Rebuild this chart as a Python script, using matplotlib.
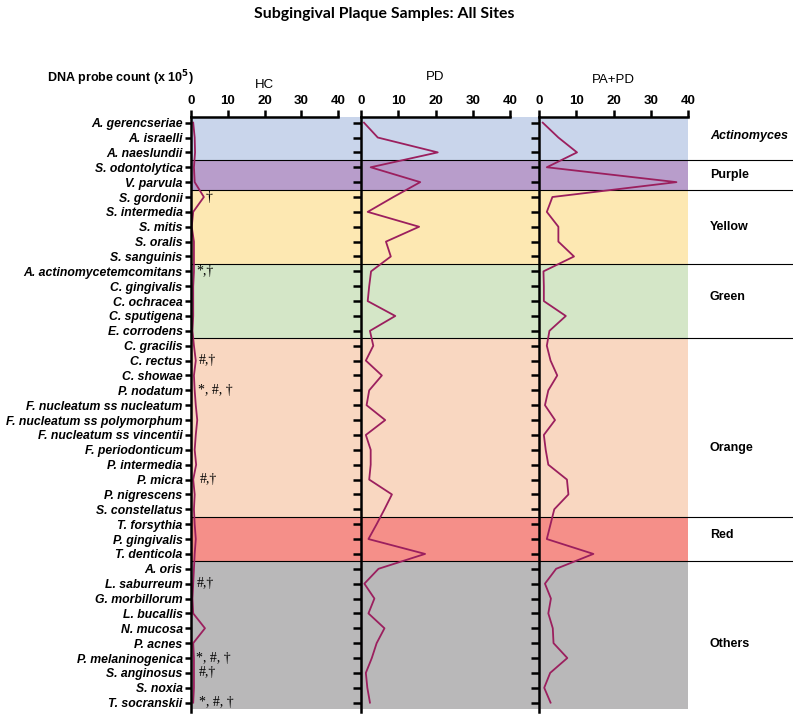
import numpy as np
import matplotlib
matplotlib.use('Agg')
import matplotlib.pyplot as plt

plt.rcParams['font.family'] = ['Liberation Sans', 'DejaVu Sans']

''' DATA '''

species = ['A. gerencseriae', 'A. israelli', 'A. naeslundii', 'S. odontolytica', 'V. parvula',
           'S. gordonii', 'S. intermedia', 'S. mitis', 'S. oralis', 'S. sanguinis',
           'A. actinomycetemcomitans', 'C. gingivalis', 'C. ochracea', 'C. sputigena', 'E. corrodens',
           'C. gracilis', 'C. rectus', 'C. showae', 'P. nodatum', 'F. nucleatum ss nucleatum',
           'F. nucleatum ss polymorphum', 'F. nucleatum ss vincentii', 'F. periodonticum',
           'P. intermedia', 'P. micra', 'P. nigrescens', 'S. constellatus',
           'T. forsythia', 'P. gingivalis', 'T. denticola',
           'A. oris', 'L. saburreum', 'G. morbillorum', 'L. bucallis', 'N. mucosa', 'P. acnes',
           'P. melaninogenica', 'S. anginosus', 'S. noxia', 'T. socranskii']

# DNA probe counts (x 10^5)
hc = [0.6, 1.0, 1.1, 0.8, 1.0, 3.5, 0.6, 0.2, 0.8, 0.8,
      0.8, 0.6, 0.6, 0.6, 0.4, 0.8, 1.3, 0.8, 1.0, 1.3,
      1.7, 1.3, 1.0, 1.4, 0.6, 1.0, 0.8, 1.0, 1.3, 1.0,
      0.8, 0.6, 0.4, 0.6, 3.8, 0.6, 0.8, 0.8, 0.8, 0.6]
pd_ = [0.8, 4.5, 20.6, 2.6, 15.9, 8.7, 1.8, 15.6, 6.7, 8.0,
       2.7, 2.2, 1.8, 9.2, 2.4, 3.3, 1.3, 5.6, 2.2, 1.5,
       6.5, 1.3, 2.6, 2.6, 2.2, 8.3, 6.3, 4.2, 2.0, 17.2,
       4.7, 0.9, 3.6, 2.0, 6.3, 4.2, 2.9, 1.3, 1.7, 2.4]
papd = [1.0, 5.2, 10.2, 2.1, 36.9, 3.6, 2.1, 5.2, 5.2, 9.4,
        1.2, 1.3, 1.3, 7.2, 2.8, 2.1, 3.1, 4.9, 2.5, 1.6,
        4.3, 1.3, 1.8, 2.5, 7.5, 7.9, 4.1, 3.1, 2.1, 14.6,
        4.6, 1.6, 3.2, 2.5, 3.7, 3.9, 7.6, 3.0, 1.4, 3.1]

panel_names = ['HC', 'PD', 'PA+PD']
panel_values = [hc, pd_, papd]
x_ticks = [0, 10, 20, 30, 40]

# complex groups: name, first row, last row, colour
groups = ['Actinomyces', 'Purple', 'Yellow', 'Green', 'Orange', 'Red', 'Others']
group_first = [0, 3, 5, 10, 15, 27, 30]
group_last = [2, 4, 9, 14, 26, 29, 39]
group_colors = ['#c9d5eb', '#b89dcb', '#fde8b2', '#d4e6c7', '#f9d7c1', '#f58f89', '#b9b8b9']

# significance marks next to HC line
marks = {'S. gordonii': '†', 'A. actinomycetemcomitans': '*,†', 'C. rectus': '#,†',
         'P. nodatum': '*, #, †', 'P. micra': '#,†', 'L. saburreum': '#,†',
         'P. melaninogenica': '*, #, †', 'S. anginosus': '#,†', 'T. socranskii': '*, #, †'}
mark_x = {'S. gordonii': 4.1, 'A. actinomycetemcomitans': 1.5, 'C. rectus': 2.0,
          'P. nodatum': 2.0, 'P. micra': 2.4, 'L. saburreum': 1.6,
          'P. melaninogenica': 1.4, 'S. anginosus': 2.0, 'T. socranskii': 2.2}

''' LAYOUT '''

W, H = 800, 715
def box(x0, y0, x1, y1):
    return [x0 / W, 1 - y1 / H, (x1 - x0) / W, (y1 - y0) / H]

rows = np.arange(len(species))
y_lim = (39.63, -0.38)
line_color = '#9b1f5e'

fig = plt.figure(figsize=(8, 7.15), dpi=100)

# background bands + separators
bg = fig.add_axes(box(191, 117, 793, 712), zorder=0)
bg.set_xlim(191, 793)
bg.set_ylim(*y_lim)
bg.axis('off')
for i, g in enumerate(groups):
    top = max(group_first[i] - 0.5, y_lim[1])
    bot = min(group_last[i] + 0.5, 39.4)
    bg.fill_between([191, 688], top, bot, color=group_colors[i], lw=0)
    if i > 0:
        bg.plot([191, 793], [group_first[i] - 0.5] * 2, color='black', lw=0.8)

label_rows = [0.9, 3.5, 7.0, 11.75, 21.9, 27.75, 35.05]
for i, g in enumerate(groups):
    bg.text(710, label_rows[i], g, fontsize=9, fontweight='bold', va='center', ha='left',
            style='italic' if g == 'Actinomyces' else 'normal')

# panels
panel_px = [(191, 338), (361, 510), (539, 688)]
title_y = [85, 77, 80]
for k, name in enumerate(panel_names):
    ax = fig.add_axes(box(panel_px[k][0], 117, panel_px[k][1], 712), zorder=2)
    ax.patch.set_alpha(0)
    ax.plot(panel_values[k], rows, color=line_color, lw=1.3)
    ax.set_xlim(0, 40)
    ax.set_ylim(*y_lim)
    ax.spines['right'].set_visible(False)
    ax.spines['bottom'].set_visible(False)
    ax.spines['top'].set_linewidth(1.8)
    ax.spines['left'].set_linewidth(1.8)
    ax.xaxis.tick_top()
    ax.set_xticks(x_ticks)
    ax.set_xticklabels([str(t) for t in x_ticks], fontweight='bold', fontsize=9.5)
    ax.tick_params(axis='x', direction='out', length=5, width=1.8, pad=2)
    ax.set_yticks(rows)
    if k == 0:
        ax.set_yticklabels(species, fontsize=8.8, fontweight='bold', style='italic')
        ax.tick_params(axis='y', direction='out', length=4, width=1.8, pad=2)
        for sp, txt in marks.items():
            ax.text(mark_x[sp], species.index(sp), txt, fontsize=10, va='center',
                    family=['Liberation Serif', 'DejaVu Serif'])
    else:
        ax.set_yticklabels([])
        ax.tick_params(axis='y', direction='out', length=6, width=1.8)
    fig.text((panel_px[k][0] + panel_px[k][1]) / 2 / W, 1 - title_y[k] / H, name,
             fontsize=9.5, ha='center', va='center')

fig.text(47 / W, 1 - 78 / H, r'DNA probe count (x 10$^{\mathbf{5}}$)', fontsize=9,
         fontweight='bold', ha='left', va='center')
fig.text(384 / W, 1 - 14 / H, 'Subgingival Plaque Samples: All Sites', fontsize=11.4,
         fontweight='bold', ha='center', va='center', family=['Lato', 'DejaVu Sans'])

plt.savefig('out.png', dpi=100)
